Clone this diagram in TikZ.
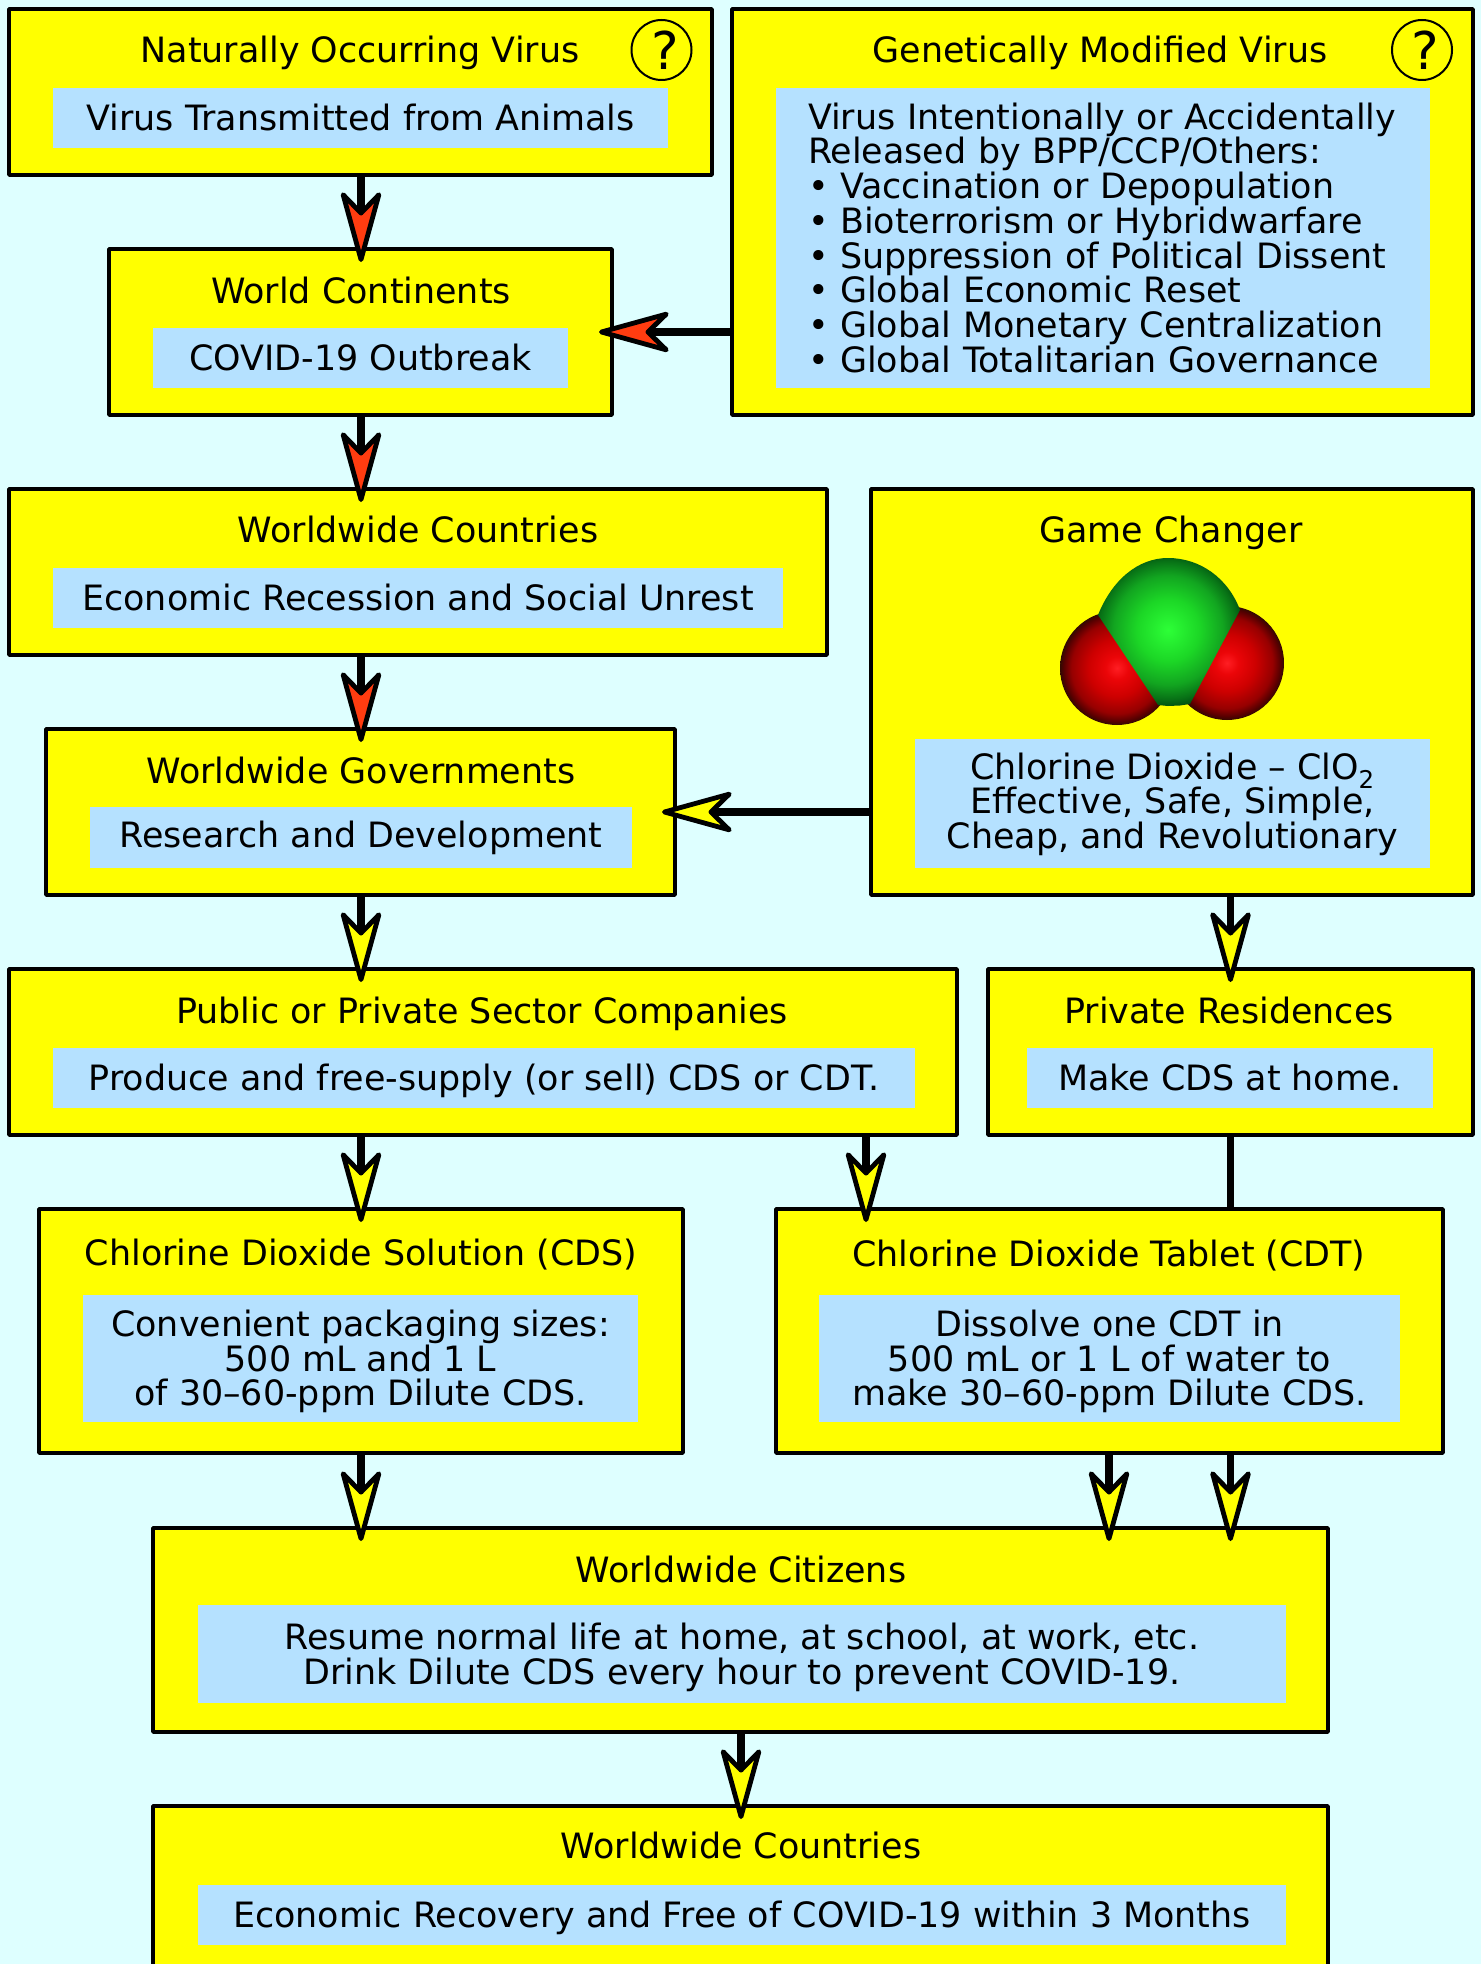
\documentclass[tikz,border=0pt]{standalone}
\usepackage{fontspec}
\setmainfont{DejaVu Sans}
\usetikzlibrary{arrows.meta}
\definecolor{bgc}{RGB}{222,255,255}
\definecolor{boxy}{RGB}{255,255,0}
\definecolor{pan}{RGB}{181,225,255}
\definecolor{hot}{RGB}{255,60,16}
\definecolor{ra}{RGB}{255,30,35}
\definecolor{rb}{RGB}{235,5,8}
\definecolor{rc}{RGB}{205,0,0}
\definecolor{rd}{RGB}{150,0,0}
\definecolor{re}{RGB}{85,0,0}
\definecolor{rf}{RGB}{50,10,0}
\definecolor{ga}{RGB}{45,255,55}
\definecolor{gb}{RGB}{28,215,38}
\definecolor{gc}{RGB}{18,165,32}
\definecolor{gd}{RGB}{8,115,22}
\definecolor{ge}{RGB}{0,75,15}
\pgfdeclareradialshading{redball}{\pgfpoint{0bp}{0bp}}{color(0bp)=(ra); color(5bp)=(rb); color(12.5bp)=(rc); color(20bp)=(rd); color(23.5bp)=(re); color(25bp)=(rf); color(50bp)=(rf)}
\pgfdeclareradialshading{greenball}{\pgfpoint{0bp}{0bp}}{color(0bp)=(ga); color(10bp)=(gb); color(17.5bp)=(gc); color(22bp)=(gd); color(25bp)=(ge); color(50bp)=(ge)}
\newcommand{\fs}{\rule{0pt}{34pt}}
\newcommand{\ls}{\rule[-8.6pt]{0pt}{8.6pt}}
\newcommand{\lsup}{\rule[-13.6pt]{0pt}{13.6pt}}
\newcommand{\txtfont}{\fontsize{34.9}{34.7}\selectfont\lineskiplimit -100pt\relax}
\tikzset{
  x=1pt,y=-1pt,
  txt/.style={font=\txtfont,text=black},
  box/.style={draw=black,fill=boxy,line width=3.6pt,line join=round,outer sep=0pt,inner sep=0pt},
  panel/.style={txt,fill=pan,draw=none,outer sep=0pt,inner sep=0pt,align=center},
  ttl/.style={txt,anchor=base,inner sep=0pt},
  qm/.style={draw=black,line width=2pt,circle,minimum size=60pt,inner sep=0pt,font=\fontsize{52}{52}\selectfont},
  conn/.style={line width=7.5pt,shorten >=-13pt},
  redtip/.style={conn,-{Stealth[length=82pt,width=45pt,inset=23pt,line width=4.8pt,fill=hot,round=false]}},
  yeltip/.style={conn,-{Stealth[length=82pt,width=45pt,inset=23pt,line width=4.8pt,fill=boxy,round=false]}},
  plainline/.style={line width=7pt}
}
\begin{document}
\begin{tikzpicture}
\useasboundingbox (0,0) rectangle (1481,1964);
\clip (0,0) rectangle (1481,1964);
\fill[bgc] (0,0) rectangle (1481,1964);
\coordinate (xA) at (361,0);
\coordinate (xB) at (1230.5,0);
\coordinate (xC) at (866,0);
\coordinate (xD) at (1109,0);
\coordinate (xE) at (741,0);
\coordinate (yF) at (0,332);
\coordinate (yG) at (0,812);
% boxes
\node[box,minimum width=703pt,minimum height=166pt] (b1) at (360.5,92) {};
\node[box,minimum width=503pt,minimum height=166pt] (b2) at (360.5,332) {};
\node[box,minimum width=741pt,minimum height=406pt] (b3) at (1102.5,212) {};
\node[box,minimum width=818pt,minimum height=166pt] (b4) at (418,572) {};
\node[box,minimum width=602pt,minimum height=406pt] (b5) at (1172,692) {};
\node[box,minimum width=629pt,minimum height=166pt] (b6) at (360.5,812) {};
\node[box,minimum width=948pt,minimum height=166pt] (b7) at (483,1052) {};
\node[box,minimum width=485pt,minimum height=166pt] (b8) at (1230.5,1052) {};
\node[box,minimum width=644pt,minimum height=244pt] (b9) at (361,1331) {};
\node[box,minimum width=667pt,minimum height=244pt] (b10) at (1109.5,1331) {};
\node[box,minimum width=1175pt,minimum height=204pt] (b11) at (740.5,1630) {};
\node[box,minimum width=1175pt,minimum height=234pt] (b12) at (740.5,1923) {};
% titles
\node[ttl] (t1) at (360,63) {Naturally Occurring Virus};
\node[ttl] (t2) at (361,303) {World Continents};
\node[ttl] (t3) at (1100,63) {Genetically Modified Virus};
\node[ttl] (t4) at (418,542) {Worldwide Countries};
\node[ttl] (t5) at (1171,542) {Game Changer};
\node[ttl] (t6) at (361,783) {Worldwide Governments};
\node[ttl] (t7) at (482,1023) {Public or Private Sector Companies};
\node[ttl] (t8) at (1229,1023) {Private Residences};
\node[ttl] (t9) at (361,1265) {Chlorine Dioxide Solution (CDS)};
\node[ttl] (t10) at (1109,1266) {Chlorine Dioxide Tablet (CDT)};
\node[ttl] (t11) at (741,1582) {Worldwide Citizens};
\node[ttl] (t12) at (741,1858) {Worldwide Countries};
% question marks
\node[qm] (q1) at (661.5,50) {\hspace*{7pt}?};
\node[qm] (q2) at (1422,50) {\hspace*{7pt}?};
% panels
\node[panel,minimum width=615pt,minimum height=60pt] (p1) at (360.5,118) {\fs\ls Virus Transmitted from Animals};
\node[panel,minimum width=415pt,minimum height=60pt] (p2) at (360.5,358) {\fs\ls COVID-19 Outbreak};
\node[panel,minimum width=654pt,minimum height=300pt,text width=590pt,inner xsep=32pt,align=left] (p3) at (1103,238) {\fs Virus Intentionally or Accidentally\\Released by BPP/CCP/Others:\\• Vaccination or Depopulation\\• Bioterrorism or Hybridwarfare\\• Suppression of Political Dissent\\• Global Economic Reset\\• Global Monetary Centralization\\\ls • Global Totalitarian Governance};
\node[panel,minimum width=730pt,minimum height=60pt] (p4) at (418,598) {\fs\ls Economic Recession and Social Unrest};
\node[panel,minimum width=515pt,minimum height=129pt] (p5) at (1172.5,803.5) {\fs Chlorine Dioxide – ClO\textsubscript{2}\\Effective, Safe, Simple,\\\lsup Cheap, and Revolutionary};
\node[panel,minimum width=542pt,minimum height=61pt] (p6) at (361,837.5) {\fs\lsup Research and Development};
\node[panel,minimum width=862pt,minimum height=60pt] (p7) at (484,1077.5) {\fs\ls Produce and free-supply (or sell) CDS or CDT.};
\node[panel,minimum width=406pt,minimum height=60pt] (p8) at (1230,1077.5) {\fs\ls Make CDS at home.};
\node[panel,minimum width=555pt,minimum height=127pt] (p9) at (360.5,1358.5) {\fs Convenient packaging sizes:\\500 mL and 1 L\\\ls of 30–60-ppm Dilute CDS.};
\node[panel,minimum width=581pt,minimum height=127pt] (p10) at (1109.5,1358.5) {\fs Dissolve one CDT in\\500 mL or 1 L of water to\\\ls make 30–60-ppm Dilute CDS.};
\node[panel,minimum width=1088pt,minimum height=98pt] (p11) at (742,1654) {\fs Resume normal life at home, at school, at work, etc.\\\ls Drink Dilute CDS every hour to prevent COVID-19.};
\node[panel,minimum width=1088pt,minimum height=60pt] (p12) at (742,1915) {\fs\ls Economic Recovery and Free of COVID-19 within 3 Months};
% molecule
\begin{scope}
\clip (1117,668) circle (57pt);
\shade[shading=redball] (1117,668) circle (57pt);
\end{scope}
\begin{scope}
\clip (1227,663) circle (57pt);
\shade[shading=redball] (1227,663) circle (57pt);
\end{scope}
\begin{scope}
\clip (1098,615) .. controls (1112,580) and (1138,558) .. (1168,558) .. controls (1200,558) and (1228,578) .. (1240,610) -- (1190,704) -- (1180,705.5) -- (1168,706) -- (1158,705) -- cycle;
\shade[shading=greenball] (1168,630) circle (78pt);
\end{scope}
% connectors
\draw[redtip] (b1.south -| xA) -- (b2.north -| xA);
\draw[redtip] (b2.south -| xA) -- (b4.north -| xA);
\draw[redtip] (b4.south -| xA) -- (b6.north -| xA);
\draw[redtip] (b3.west |- yF) -- (b2.east |- yF);
\draw[yeltip] (b5.west |- yG) -- (b6.east |- yG);
\draw[yeltip] (b6.south -| xA) -- (b7.north -| xA);
\draw[yeltip] (b5.south -| xB) -- (b8.north -| xB);
\draw[yeltip] (b7.south -| xA) -- (b9.north -| xA);
\draw[yeltip] (b7.south -| xC) -- (b10.north -| xC);
\draw[plainline] (b8.south -| xB) -- (b10.north -| xB);
\draw[yeltip] (b9.south -| xA) -- (b11.north -| xA);
\draw[yeltip] (b10.south -| xD) -- (b11.north -| xD);
\draw[yeltip] (b10.south -| xB) -- (b11.north -| xB);
\draw[yeltip] (b11.south -| xE) -- (b12.north -| xE);
\end{tikzpicture}
\end{document}
